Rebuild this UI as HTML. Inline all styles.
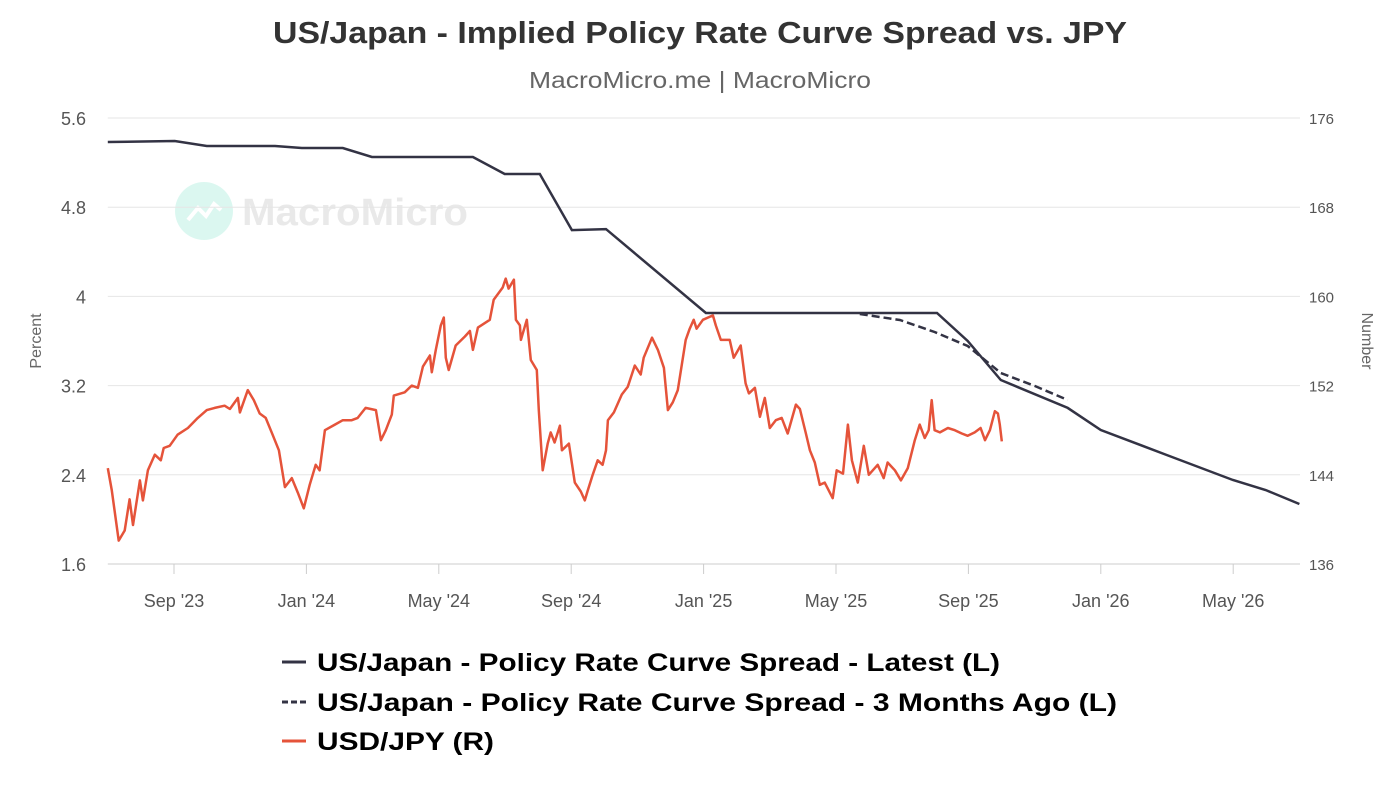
<!DOCTYPE html>
<html><head><meta charset="utf-8"><style>
body{margin:0;background:#fff;width:1400px;height:787px;overflow:hidden;font-family:"Liberation Sans",sans-serif}
</style></head><body>
<svg id="chart" width="1400" height="787" xmlns="http://www.w3.org/2000/svg">
<text x="273" y="43" font-size="31" font-weight="bold" fill="#333" textLength="854" lengthAdjust="spacingAndGlyphs">US/Japan - Implied Policy Rate Curve Spread vs. JPY</text>
<text x="529" y="88" font-size="23" fill="#666" textLength="342" lengthAdjust="spacingAndGlyphs">MacroMicro.me | MacroMicro</text>
<g opacity="0.18">
<circle cx="204" cy="211" r="29" fill="#3fd6b0"/>
<polyline points="188,220 198,208 206,216 214,204 221,210" fill="none" stroke="#fff" stroke-width="4"/>
<text x="242" y="225" font-size="38" font-weight="bold" fill="#888" textLength="226" lengthAdjust="spacingAndGlyphs">MacroMicro</text>
</g>
<g id="grid"></g><g id="axes"></g><g id="series"></g>
<g>
<g><line x1="282" y1="662" x2="306" y2="662" stroke="#333344" stroke-width="3"/><text x="317" y="671" font-size="25" font-weight="bold" fill="#000" textLength="683" lengthAdjust="spacingAndGlyphs">US/Japan - Policy Rate Curve Spread - Latest (L)</text></g>
<g><line x1="282" y1="702" x2="306" y2="702" stroke="#333344" stroke-width="3" stroke-dasharray="6,3"/><text x="317" y="711" font-size="25" font-weight="bold" fill="#000" textLength="800" lengthAdjust="spacingAndGlyphs">US/Japan - Policy Rate Curve Spread - 3 Months Ago (L)</text></g>
<g><line x1="282" y1="741" x2="306" y2="741" stroke="#e5533a" stroke-width="3"/><text x="317" y="750" font-size="25" font-weight="bold" fill="#000" textLength="177" lengthAdjust="spacingAndGlyphs">USD/JPY (R)</text></g>
</g>
</svg>
<script>
// months since Jul 1 2023
const xTickMonths=[2,6,10,14,18,22,26,30,34];
const xTickLabels=["Sep '23","Jan '24","May '24","Sep '24","Jan '25","May '25","Sep '25","Jan '26","May '26"];
const leftTicks=[1.6,2.4,3.2,4,4.8,5.6];
const leftTickLabels=["1.6","2.4","3.2","4","4.8","5.6"];
const rightTicks=[136,144,152,160,168,176];
const latestMonths=[0,2.02,2.99,5.05,5.86,7.10,7.98,11.03,11.99,13.05,14.02,15.05,18.07,23.02,25.05,25.98,26.98,29.0,30.0,31.99,33.99,34.98,36.0];
const latestValues=[5.385,5.394,5.349,5.349,5.331,5.331,5.25,5.25,5.098,5.098,4.595,4.604,3.851,3.851,3.851,3.6,3.25,3.0,2.802,2.578,2.353,2.264,2.138];
const agoMonths=[22.72,23.93,24.98,25.98,26.98,28.01,29.0];
const agoValues=[3.842,3.788,3.681,3.555,3.313,3.196,3.071];
const jpyMonths=[0,0.12,0.33,0.51,0.66,0.76,0.97,1.06,1.21,1.42,1.6,1.69,1.87,2.11,2.42,2.72,2.99,3.23,3.53,3.69,3.93,3.99,4.23,4.41,4.59,4.77,4.98,5.17,5.35,5.56,5.74,5.92,6.1,6.28,6.4,6.56,6.86,7.1,7.37,7.55,7.79,8.1,8.25,8.4,8.58,8.64,8.97,9.18,9.37,9.52,9.73,9.79,9.91,10.06,10.15,10.21,10.3,10.51,10.79,10.94,11.03,11.18,11.54,11.66,11.93,12.02,12.11,12.27,12.33,12.45,12.48,12.66,12.78,12.96,13.02,13.14,13.29,13.38,13.5,13.66,13.72,13.93,14.11,14.29,14.41,14.5,14.65,14.8,14.95,15.05,15.11,15.29,15.53,15.71,15.92,16.1,16.19,16.44,16.62,16.8,16.92,17.07,17.22,17.46,17.58,17.7,17.79,17.98,18.28,18.37,18.52,18.79,18.91,19.12,19.27,19.37,19.55,19.7,19.85,20.0,20.18,20.36,20.54,20.79,20.91,21.09,21.21,21.36,21.51,21.66,21.9,22.02,22.21,22.36,22.48,22.66,22.84,22.99,23.26,23.44,23.56,23.78,23.96,24.17,24.38,24.53,24.68,24.8,24.89,24.98,25.14,25.38,25.59,25.8,25.98,26.19,26.37,26.5,26.65,26.8,26.89,26.95,27.01];
const jpyValues=[144.6,142.6,138.1,139.0,141.8,139.5,143.5,141.7,144.4,145.8,145.3,146.4,146.6,147.6,148.2,149.1,149.8,150.0,150.2,149.9,150.9,149.6,151.6,150.7,149.5,149.1,147.6,146.2,142.9,143.7,142.4,141.0,143.1,144.9,144.4,148.0,148.5,148.9,148.9,149.1,150.0,149.8,147.1,148.0,149.4,151.1,151.4,152.0,151.8,153.7,154.7,153.2,155.2,157.4,158.1,154.5,153.4,155.6,156.4,156.9,155.2,157.2,157.9,159.7,160.8,161.6,160.7,161.5,157.9,157.4,156.1,157.9,154.3,153.4,149.8,144.4,146.8,147.8,146.9,148.4,146.2,146.8,143.3,142.5,141.7,142.6,144.0,145.3,144.9,146.2,148.9,149.6,151.2,151.9,153.8,153.0,154.5,156.3,155.2,153.6,149.8,150.5,151.6,156.1,157.1,157.9,157.1,157.9,158.3,157.4,156.1,156.1,154.5,155.6,152.2,151.3,151.8,149.2,150.9,148.2,148.9,149.1,147.7,150.3,149.9,147.7,146.2,145.1,143.1,143.3,141.9,144.4,144.1,148.5,145.3,143.3,146.6,144.0,144.9,143.7,145.1,144.4,143.5,144.6,147.1,148.5,147.3,148.0,150.7,148.0,147.8,148.2,148.0,147.7,147.5,147.8,148.2,147.1,148.0,149.7,149.5,148.5,147.0];

const NS="http://www.w3.org/2000/svg";
const PX0=107.8,PXM=33.1,X1=1300,YT=118,YB=564;
const xS=m=>PX0+m*PXM;
const yL=v=>YB-(v-1.6)/(5.6-1.6)*(YB-YT);
const yR=v=>YB-(v-136)/(176-136)*(YB-YT);
function mk(tag,attrs,parent){const e=document.createElementNS(NS,tag);for(const k in attrs)e.setAttribute(k,attrs[k]);parent.appendChild(e);return e;}
const grid=document.getElementById('grid'),axes=document.getElementById('axes'),series=document.getElementById('series');
leftTicks.forEach((t,i)=>{
  const g=mk('line',{x1:PX0,x2:X1,y1:yL(t),y2:yL(t),stroke:i===0?'#ccc':'#e6e6e6','stroke-width':1},grid);
  
  
  const l=mk('text',{x:86,y:yL(t)+7,'text-anchor':'end','font-size':18,fill:'#555'},axes);
  l.textContent=leftTickLabels[i];
  
  
});
rightTicks.forEach(t=>{
  const l=mk('text',{x:1309,y:yR(t)+6,'font-size':15,fill:'#555'},axes);
  l.textContent=String(t);
  
  
});
xTickMonths.forEach((m,i)=>{
  const tk=mk('line',{x1:xS(m),x2:xS(m),y1:YB,y2:YB+10,stroke:'#ccc'},axes);
  
  
  const l=mk('text',{x:xS(m),y:607,'text-anchor':'middle','font-size':18,fill:'#555'},axes);
  l.textContent=xTickLabels[i];
  
  
});
const lt=mk('text',{x:41,y:341,'text-anchor':'middle','font-size':16,fill:'#666',transform:'rotate(-90 41 341)'},axes);
lt.textContent='Percent';


const rt=mk('text',{x:1362,y:341,'text-anchor':'middle','font-size':16,fill:'#666',transform:'rotate(90 1362 341)'},axes);
rt.textContent='Number';


function pts(ms,vs,f){return ms.map((m,i)=>xS(m).toFixed(1)+','+f(vs[i]).toFixed(1)).join(' ');}
const p1=mk('polyline',{points:pts(jpyMonths,jpyValues,yR),fill:'none',stroke:'#e5533a','stroke-width':2.5,'stroke-linejoin':'round'},series);


const p2=mk('polyline',{points:pts(agoMonths,agoValues,yL),fill:'none',stroke:'#333344','stroke-width':2.5,'stroke-dasharray':'8,4'},series);


const p3=mk('polyline',{points:pts(latestMonths,latestValues,yL),fill:'none',stroke:'#333344','stroke-width':2.5},series);


</script>
</body></html>
